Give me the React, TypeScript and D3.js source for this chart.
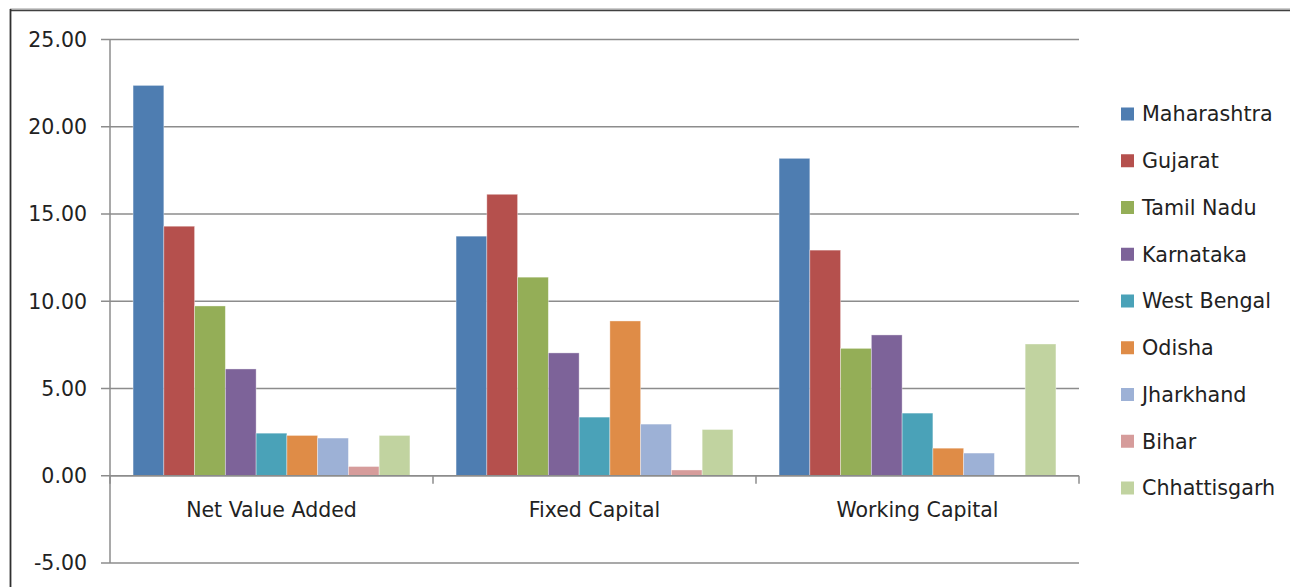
import React from "react";
import * as d3 from "d3";

const categories = ["Net Value Added", "Fixed Capital", "Working Capital"];
const states = ["Maharashtra", "Gujarat", "Tamil Nadu", "Karnataka", "West Bengal", "Odisha", "Jharkhand", "Bihar", "Chhattisgarh"];
const colors = ["#4E7DB1", "#B5504D", "#94AE57", "#7D6399", "#4AA2B8", "#DF8C47", "#9DB1D6", "#D69C9B", "#C1D3A0"];
// values[state][category]
const maharashtra = [22.37, 13.73, 18.19];
const gujarat = [14.3, 16.13, 12.93];
const tamilNadu = [9.73, 11.38, 7.3];
const karnataka = [6.12, 7.04, 8.07];
const westBengal = [2.44, 3.36, 3.59];
const odisha = [2.31, 8.87, 1.58];
const jharkhand = [2.16, 2.96, 1.3];
const bihar = [0.53, 0.33, 0];
const chhattisgarh = [2.31, 2.65, 7.55];
const seriesValues = [maharashtra, gujarat, tamilNadu, karnataka, westBengal, odisha, jharkhand, bihar, chhattisgarh];
const yTicks = [-5, 0, 5, 10, 15, 20, 25];

export default function App() {
  const W = 1290, H = 587;
  const left = 110, right = 1079, top = 39.5, bottom = 563;
  const y = d3.scaleLinear().domain([-5, 25]).range([bottom, top]);
  const x0 = d3.scaleBand().domain(categories).range([left, right]).paddingInner(0).paddingOuter(0);
  const x1 = d3.scaleBand().domain(states).range([0, x0.bandwidth()]).paddingOuter(0.75).paddingInner(0);
  const font = "'DejaVu Sans', sans-serif";
  const grid = "#8c8c8c";
  const fmt = (t: number) => d3.format(".2f")(t).replace("\u2212", "-");
  return (
    <svg width={W} height={H} style={{ position: "absolute", left: 0, top: 0, background: "#fff" }}>
      {/* frame */}
      <line x1={10} x2={W} y1={9} y2={9} stroke="#9a9a9a" strokeWidth={1} />
      <line x1={10} x2={W} y1={10.5} y2={10.5} stroke="#404040" strokeWidth={1.5} />
      <line x1={10.5} x2={10.5} y1={9} y2={H} stroke="#303030" strokeWidth={1.8} />
      {/* gridlines and y labels */}
      {yTicks.map((t) => (
        <g key={t}>
          <line x1={101} x2={right} y1={y(t)} y2={y(t)} stroke={grid} strokeWidth={1.5} />
          <text x={87} y={y(t)} dy="0.36em" textAnchor="end" fontFamily={font} fontSize={20.5} fill="#222">
            {fmt(t)}
          </text>
        </g>
      ))}
      {/* y axis */}
      <line x1={left} x2={left} y1={top} y2={bottom} stroke={grid} strokeWidth={1.5} />
      {/* bars */}
      {categories.map((c, ci) => (
        <g key={c} transform={`translate(${x0(c)},0)`}>
          {states.map((s, si) => {
            const v = seriesValues[si][ci];
            if (v === 0) return null;
            return (
              <rect
                key={s}
                x={x1(s)}
                width={x1.bandwidth()}
                y={y(Math.max(0, v))}
                height={Math.abs(y(v) - y(0))}
                fill={colors[si]}
                stroke="#ffffff"
                strokeOpacity={0.45}
                strokeWidth={0.8}
              />
            );
          })}
        </g>
      ))}
      {/* zero axis with category ticks */}
      <line x1={left} x2={right} y1={y(0)} y2={y(0)} stroke={grid} strokeWidth={1.5} />
      {[left, ...categories.map((c) => (x0(c) as number) + x0.bandwidth())].map((tx, i) => (
        <line key={i} x1={tx} x2={tx} y1={y(0)} y2={y(0) + 8} stroke={grid} strokeWidth={1.5} />
      ))}
      {categories.map((c) => (
        <text key={c} x={(x0(c) as number) + x0.bandwidth() / 2} y={517} textAnchor="middle" fontFamily={font} fontSize={20.5} fill="#222">
          {c}
        </text>
      ))}
      {/* legend */}
      {states.map((s, i) => {
        const cy = 114 + i * 46.75;
        return (
          <g key={s}>
            <rect x={1121} y={cy - 6.5} width={13} height={13} fill={colors[i]} />
            <text x={1142} y={cy} dy="0.36em" fontFamily={font} fontSize={20.7} fill="#222">
              {s}
            </text>
          </g>
        );
      })}
    </svg>
  );
}
